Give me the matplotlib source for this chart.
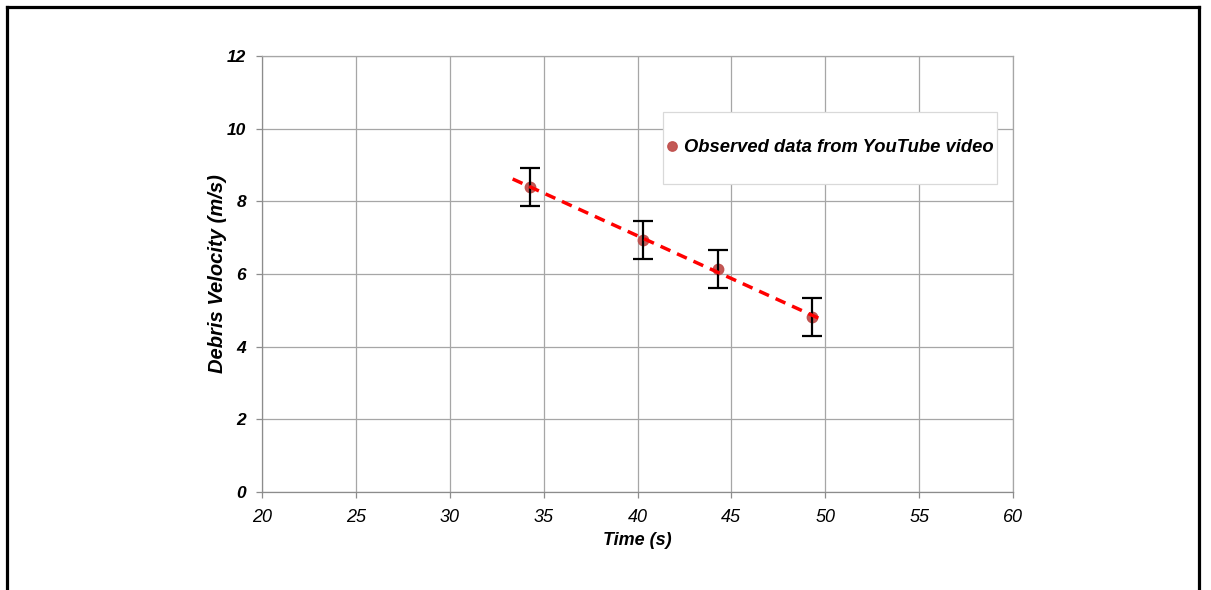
import numpy as np
import matplotlib
matplotlib.use("Agg")
import matplotlib.pyplot as plt
from matplotlib.lines import Line2D
from matplotlib.patches import Rectangle

# observed debris velocity vs time
time_s = [34.3, 40.3, 44.3, 49.3]
velocity = [8.39, 6.93, 6.14, 4.82]
vel_err = [0.52, 0.52, 0.52, 0.52]
trend_range = [33.35, 49.85]  # extent of the dashed fit line

xticks = [20, 25, 30, 35, 40, 45, 50, 55, 60]
yticks = [0, 2, 4, 6, 8, 10, 12]

plt.rcParams['font.family'] = ['Liberation Sans', 'DejaVu Sans']

fig = plt.figure(figsize=(12.11, 5.90), dpi=100)
W, H = 1211, 590

# outer frame (top, left, right)
fig.add_artist(Line2D([7/W, 7/W], [0, 1-6.5/H], color='black', lw=2.3, transform=fig.transFigure))
fig.add_artist(Line2D([7/W, 1199/W], [1-6.5/H, 1-6.5/H], color='black', lw=2.3, transform=fig.transFigure))
fig.add_artist(Line2D([1199/W, 1199/W], [0, 1-6.5/H], color='black', lw=2.3, transform=fig.transFigure))

ax = fig.add_axes([262/W, (H-492)/H, (1013-262)/W, (492-56)/H])
ax.set_xlim(20, 60)
ax.set_ylim(0, 12)
ax.set_xticks(xticks)
ax.set_yticks(yticks)
ax.grid(True, color='#a6a6a6', lw=0.9)
ax.set_axisbelow(True)
for s in ax.spines.values():
    s.set_color('#a6a6a6')
    s.set_linewidth(0.9)
ax.spines['left'].set_color('#8c8c8c')
ax.spines['bottom'].set_color('#8c8c8c')
ax.tick_params(axis='both', direction='out', length=4, width=0.9, color='#8c8c8c')
ax.tick_params(axis='x', pad=8.5)
ax.tick_params(axis='y', pad=7.5)

ax.set_xticklabels([str(t) for t in xticks], fontsize=13, style='italic')
ax.set_yticklabels([str(t) for t in yticks], fontsize=12.5, style='italic', weight='bold')

ax.set_xlabel('Time (s)', fontsize=13, style='italic', weight='bold')
ax.set_ylabel('Debris Velocity (m/s)', fontsize=14.5, style='italic', weight='bold')
ax.xaxis.set_label_coords(0.5, -0.092)
ax.yaxis.set_label_coords(-0.046, 0.5)

# data points
ax.plot(time_s, velocity, 'o', color='#c0504d', ms=7.5, alpha=0.95, zorder=3,
        label='Observed data from YouTube video')
ax.errorbar(time_s, velocity, yerr=vel_err, fmt='none', ecolor='black',
            elinewidth=1.6, capsize=7.5, capthick=1.6, zorder=4)

# linear fit
coef = np.polyfit(time_s, velocity, 1)
tx = np.array(trend_range)
ax.plot(tx, np.polyval(coef, tx), color='#ff0000', lw=2.5, dashes=(3.1, 2.1), zorder=5)

# legend box
ax.add_patch(Rectangle((0.534, 0.706), 0.445, 0.166, transform=ax.transAxes,
                       facecolor='white', edgecolor='#d9d9d9', lw=0.9, zorder=6))
leg = ax.legend(loc='center', bbox_to_anchor=(0.7565, 0.789), frameon=False,
                prop={'size': 13.2, 'style': 'italic', 'weight': 'bold'},
                handlelength=0.6, handletextpad=0.4, markerscale=0.9)
leg.set_zorder(7)

fig.savefig('out.png', dpi=100)
